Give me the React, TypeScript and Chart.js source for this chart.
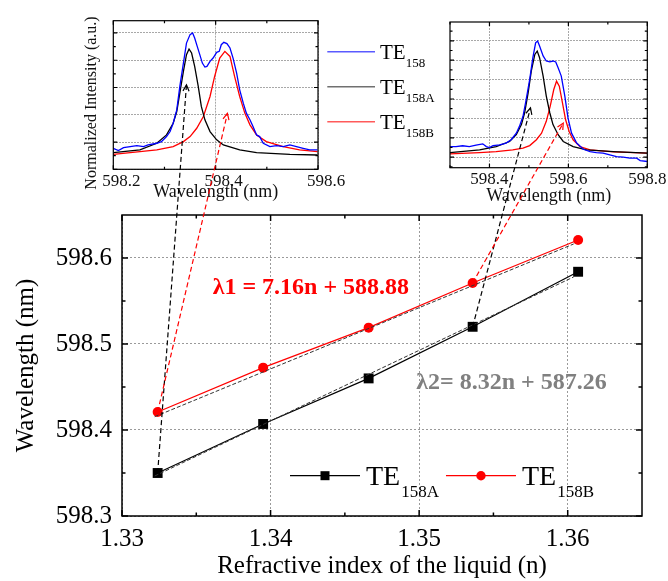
import React, { useEffect, useRef } from "react";
import { Chart, registerables } from "chart.js";

Chart.register(...registerables);

const SERIF = '"Liberation Serif", "Times New Roman", serif';

// ---------------- main chart data ----------------
const refractiveIndex = [1.3324, 1.3395, 1.3466, 1.3536, 1.3607];
const te158A = [598.35, 598.407, 598.46, 598.52, 598.584];
const te158B = [598.421, 598.4725, 598.519, 598.571, 598.621];
const fitIndex = [1.3322, 1.3604];
const fitA = [598.3465, 598.578];
const fitB = [598.4155, 598.6163];
const mainXTicks = [1.33, 1.34, 1.35, 1.36];
const mainXMinor = [1.335, 1.345, 1.355];
const mainYTicks = [598.3, 598.4, 598.5, 598.6];
const mainYMinor = [598.35, 598.45, 598.55];
const eq1Text = "λ1 = 7.16n + 588.88";
const eq1At = [1.3361, 598.565];
const eq2Text = "λ2= 8.32n + 587.26";
const eq2At = [1.3498, 598.455];
const mainLegend = [
  { label: "TE", sub: "158A", color: "#000000", marker: "square" },
  { label: "TE", sub: "158B", color: "#ff0000", marker: "circle" },
];

// ---------------- inset 1 data ----------------
const in1BlueWl = [598.2, 598.21, 598.22, 598.233, 598.246, 598.259, 598.268, 598.285, 598.294, 598.304, 598.311, 598.317, 598.324, 598.33, 598.337, 598.343, 598.35, 598.355, 598.359, 598.364, 598.369, 598.374, 598.379, 598.383, 598.389, 598.395, 598.402, 598.407, 598.411, 598.416, 598.422, 598.428, 598.434, 598.441, 598.447, 598.454, 598.46, 598.467, 598.473, 598.48, 598.486, 598.493, 598.506, 598.519, 598.532, 598.545, 598.558, 598.571, 598.584, 598.599];
const in1Blue = [0.154, 0.137, 0.159, 0.167, 0.174, 0.167, 0.179, 0.191, 0.203, 0.24, 0.277, 0.338, 0.436, 0.608, 0.779, 0.926, 0.988, 1.0, 0.963, 0.902, 0.841, 0.779, 0.75, 0.755, 0.792, 0.816, 0.858, 0.865, 0.914, 0.931, 0.922, 0.89, 0.816, 0.706, 0.583, 0.485, 0.412, 0.363, 0.314, 0.252, 0.24, 0.191, 0.167, 0.174, 0.167, 0.179, 0.167, 0.154, 0.142, 0.142];
const in1BlackWl = [598.2, 598.252, 598.285, 598.304, 598.317, 598.324, 598.33, 598.337, 598.343, 598.348, 598.353, 598.359, 598.366, 598.372, 598.379, 598.389, 598.402, 598.415, 598.447, 598.48, 598.545, 598.599];
const in1Black = [0.123, 0.142, 0.191, 0.252, 0.338, 0.424, 0.559, 0.718, 0.841, 0.882, 0.853, 0.755, 0.608, 0.461, 0.363, 0.277, 0.216, 0.179, 0.142, 0.123, 0.11, 0.105];
const in1RedWl = [598.2, 598.252, 598.285, 598.317, 598.337, 598.35, 598.363, 598.376, 598.389, 598.398, 598.408, 598.418, 598.428, 598.437, 598.447, 598.457, 598.467, 598.48, 598.499, 598.532, 598.564, 598.599];
const in1Red = [0.11, 0.13, 0.142, 0.167, 0.203, 0.24, 0.301, 0.387, 0.534, 0.681, 0.816, 0.865, 0.828, 0.681, 0.534, 0.412, 0.326, 0.252, 0.203, 0.167, 0.142, 0.13];
const in1XTicks = [598.2, 598.4, 598.6];
const in1XMinor = [598.3, 598.5];
const in1YTicks = [0, 0.2, 0.4, 0.6, 0.8, 1.0];
const in1YMinor = [0.1, 0.3, 0.5, 0.7, 0.9];
const insetLegend = [
  { sub: "158", color: "#5a5aff" },
  { sub: "158A", color: "#707070" },
  { sub: "158B", color: "#ff5a5a" },
];

// ---------------- inset 2 data ----------------
const in2BlueWl = [598.3, 598.315, 598.332, 598.349, 598.366, 598.383, 598.392, 598.4, 598.409, 598.426, 598.442, 598.455, 598.468, 598.476, 598.485, 598.493, 598.502, 598.51, 598.517, 598.522, 598.527, 598.536, 598.544, 598.553, 598.561, 598.568, 598.574, 598.582, 598.591, 598.599, 598.608, 598.621, 598.638, 598.655, 598.671, 598.688, 598.705, 598.722, 598.739, 598.756, 598.773, 598.782, 598.8];
const in2Blue = [0.055, 0.055, 0.059, 0.055, 0.062, 0.069, 0.055, 0.05, 0.06, 0.064, 0.073, 0.09, 0.124, 0.159, 0.211, 0.297, 0.401, 0.513, 0.59, 0.599, 0.573, 0.522, 0.496, 0.492, 0.496, 0.491, 0.461, 0.418, 0.315, 0.203, 0.124, 0.073, 0.041, 0.029, 0.024, 0.021, 0.012, 0.003, 0.0, -0.005, -0.005, -0.017, -0.022];
const in2BlackWl = [598.3, 598.375, 598.417, 598.451, 598.468, 598.481, 598.489, 598.498, 598.506, 598.515, 598.521, 598.527, 598.536, 598.544, 598.553, 598.561, 598.574, 598.587, 598.612, 598.646, 598.714, 598.8];
const in2Black = [0.024, 0.038, 0.055, 0.081, 0.116, 0.168, 0.228, 0.332, 0.444, 0.53, 0.547, 0.513, 0.418, 0.315, 0.228, 0.168, 0.116, 0.081, 0.055, 0.038, 0.029, 0.021];
const in2RedWl = [598.3, 598.375, 598.417, 598.459, 598.485, 598.502, 598.519, 598.532, 598.544, 598.554, 598.563, 598.57, 598.577, 598.585, 598.593, 598.602, 598.612, 598.629, 598.655, 598.714, 598.8];
const in2Red = [0.017, 0.024, 0.029, 0.038, 0.047, 0.06, 0.09, 0.124, 0.185, 0.263, 0.349, 0.392, 0.366, 0.28, 0.193, 0.133, 0.09, 0.055, 0.038, 0.028, 0.021];
const in2XTicks = [598.4, 598.6, 598.8];
const in2XMinor = [598.3, 598.5, 598.7];
const in2YTicks = [0, 0.1, 0.2, 0.3, 0.4, 0.5, 0.6];
const in2YMinor = [-0.05, 0.05, 0.15, 0.25, 0.35, 0.45, 0.55, 0.65];

// ---------------- arrows (main point -> inset location) ----------------
const arrowSpecs = [
  { series: "A", index: 0, inset: 1, wl: 598.343, level: 0.62, color: "#000000" },
  { series: "B", index: 0, inset: 1, wl: 598.423, level: 0.41, color: "#ff0000" },
  { series: "A", index: 3, inset: 2, wl: 598.504, level: 0.254, color: "#000000" },
  { series: "B", index: 3, inset: 2, wl: 598.587, level: 0.176, color: "#ff0000" },
];

// ---------------- layout ----------------
const MAIN = { left: 0, top: 0, w: 668, h: 581, area: { left: 122, top: 215, right: 642, bottom: 516 } };
const IN1 = { left: 0, top: 0, w: 448, h: 215, area: { left: 113.3, top: 20.7, right: 318, bottom: 169.3 } };
const IN2 = { left: 440, top: 0, w: 228, h: 215, area: { left: 10, top: 22, right: 207.3, bottom: 167.7 } };

const pts = (xs: number[], ys: number[]) => xs.map((x, i) => ({ x, y: ys[i] }));

function framePlugin(spec: any) {
  return {
    id: "frameTicks",
    afterDraw(chart: any) {
      const { ctx, chartArea: a } = chart;
      const sx = chart.scales.x;
      const sy = chart.scales.y;
      ctx.save();
      ctx.setLineDash([]);
      ctx.strokeStyle = "#000";
      ctx.lineWidth = spec.lineWidth;
      ctx.beginPath();
      const xm = (vals: number[], len: number) =>
        vals.forEach((v) => {
          const p = sx.getPixelForValue(v);
          if (p < a.left - 0.5 || p > a.right + 0.5) return;
          ctx.moveTo(p, a.bottom);
          ctx.lineTo(p, a.bottom - len);
          ctx.moveTo(p, a.top);
          ctx.lineTo(p, a.top + len);
        });
      const ym = (vals: number[], len: number) =>
        vals.forEach((v) => {
          const p = sy.getPixelForValue(v);
          if (p < a.top - 0.5 || p > a.bottom + 0.5) return;
          ctx.moveTo(a.left, p);
          ctx.lineTo(a.left + len, p);
          ctx.moveTo(a.right, p);
          ctx.lineTo(a.right - len, p);
        });
      xm(spec.xMajor, spec.major);
      xm(spec.xMinor, spec.minor);
      ym(spec.yMajor, spec.major);
      ym(spec.yMinor, spec.minor);
      ctx.stroke();
      ctx.strokeRect(a.left, a.top, a.right - a.left, a.bottom - a.top);
      ctx.restore();
    },
  };
}

const mainDecor = {
  id: "mainDecor",
  afterDraw(chart: any) {
    const { ctx, chartArea: a } = chart;
    const sx = chart.scales.x;
    const sy = chart.scales.y;
    ctx.save();
    ctx.textAlign = "left";
    ctx.textBaseline = "middle";
    ctx.font = `bold 24px ${SERIF}`;
    ctx.fillStyle = "#ff0000";
    ctx.fillText(eq1Text, sx.getPixelForValue(eq1At[0]), sy.getPixelForValue(eq1At[1]));
    ctx.fillStyle = "#808080";
    ctx.fillText(eq2Text, sx.getPixelForValue(eq2At[0]), sy.getPixelForValue(eq2At[1]));

    // legend
    let x = a.left + 168;
    const y = a.bottom - 40.3;
    ctx.textBaseline = "alphabetic";
    mainLegend.forEach((item) => {
      ctx.strokeStyle = item.color;
      ctx.fillStyle = item.color;
      ctx.lineWidth = 1.2;
      ctx.beginPath();
      ctx.moveTo(x, y);
      ctx.lineTo(x + 70, y);
      ctx.stroke();
      if (item.marker === "square") {
        ctx.fillRect(x + 35 - 4.5, y - 4.5, 9, 9);
      } else {
        ctx.beginPath();
        ctx.arc(x + 35, y, 4.7, 0, Math.PI * 2);
        ctx.fill();
      }
      ctx.fillStyle = "#000";
      const tx = x + 76;
      ctx.font = `28px ${SERIF}`;
      ctx.fillText(item.label, tx, y + 9.5);
      const w1 = ctx.measureText(item.label).width;
      ctx.font = `17px ${SERIF}`;
      ctx.fillText(item.sub, tx + w1 + 1, y + 21);
      const w2 = ctx.measureText(item.sub).width;
      x = tx + w1 + 1 + w2 + 7;
    });
    ctx.restore();
  },
};

const inset1Decor = {
  id: "inset1Decor",
  afterDraw(chart: any) {
    const { ctx, chartArea: a } = chart;
    ctx.save();
    // y title
    ctx.translate(a.left - 21.6, (a.top + a.bottom) / 2 + 8);
    ctx.rotate(-Math.PI / 2);
    ctx.font = `16px ${SERIF}`;
    ctx.fillStyle = "#111";
    ctx.textAlign = "center";
    ctx.textBaseline = "middle";
    ctx.fillText("Normalized Intensity (a.u.)", 0, 0);
    ctx.restore();

    ctx.save();
    insetLegend.forEach((item, i) => {
      const y = a.top + 31 + i * 35;
      ctx.strokeStyle = item.color;
      ctx.lineWidth = 1.6;
      ctx.beginPath();
      ctx.moveTo(a.right + 9.3, y);
      ctx.lineTo(a.right + 57, y);
      ctx.stroke();
      ctx.fillStyle = "#000";
      ctx.textBaseline = "alphabetic";
      ctx.textAlign = "left";
      ctx.font = `21px ${SERIF}`;
      const tx = a.right + 62;
      ctx.fillText("TE", tx, y + 7.3);
      const w = ctx.measureText("TE").width;
      ctx.font = `13px ${SERIF}`;
      ctx.fillText(item.sub, tx + w, y + 15);
    });
    ctx.restore();
  },
};

function insetConfig(box: any, o: any) {
  const a = box.area;
  return {
    type: "line",
    data: {
      datasets: [
        { data: pts(o.blueWl, o.blue), borderColor: "#0000ff", borderWidth: 1.3, pointRadius: 0, tension: 0 },
        { data: pts(o.blackWl, o.black), borderColor: "#000000", borderWidth: 1.3, pointRadius: 0, tension: 0 },
        { data: pts(o.redWl, o.red), borderColor: "#ff0000", borderWidth: 1.3, pointRadius: 0, tension: 0 },
      ],
    },
    options: {
      animation: false,
      responsive: false,
      events: [],
      layout: { padding: { left: 0, top: a.top, right: box.w - a.right, bottom: 0 } },
      plugins: { legend: { display: false }, tooltip: { enabled: false } },
      scales: {
        x: {
          type: "linear",
          min: o.xMin,
          max: o.xMax,
          afterBuildTicks: (s: any) => {
            s.ticks = o.xTicks.map((v: number) => ({ value: v }));
          },
          afterFit: (s: any) => {
            s.height = box.h - a.bottom;
          },
          grid: { color: "#a8a8a8", lineWidth: 1, drawTicks: false },
          border: { display: false, dash: [2, 1] },
          ticks: {
            font: { family: SERIF, size: 17 },
            color: "#111",
            padding: o.tickPad,
            labelOffset: o.labelOffset,
            maxRotation: 0,
            autoSkip: false,
            callback: (v: any) => Number(v).toFixed(1),
          },
          title: {
            display: true,
            text: "Wavelength (nm)",
            font: { family: SERIF, size: 18 },
            color: "#111",
            padding: { top: 0, bottom: o.titlePad },
          },
        },
        y: {
          type: "linear",
          min: o.yMin,
          max: o.yMax,
          afterBuildTicks: (s: any) => {
            s.ticks = o.yTicks.map((v: number) => ({ value: v }));
          },
          afterFit: (s: any) => {
            s.width = a.left;
          },
          grid: { color: "#a8a8a8", lineWidth: 1, drawTicks: false },
          border: { display: false, dash: [2, 1] },
          ticks: { display: false },
        },
      },
    },
    plugins: [
      framePlugin({ lineWidth: 1.2, major: 4, minor: 2.5, xMajor: o.xTicks, xMinor: o.xMinor, yMajor: o.yTicks, yMinor: o.yMinor }),
      ...(o.extra ? [o.extra] : []),
    ],
  };
}

function mainConfig() {
  const a = MAIN.area;
  return {
    type: "line",
    data: {
      datasets: [
        { data: pts(fitIndex, fitA), borderColor: "#333333", borderWidth: 1, borderDash: [4, 2], pointRadius: 0 },
        { data: pts(fitIndex, fitB), borderColor: "#333333", borderWidth: 1, borderDash: [4, 2], pointRadius: 0 },
        {
          data: pts(refractiveIndex, te158A),
          borderColor: "#000000",
          borderWidth: 1.2,
          pointStyle: "rect",
          pointRadius: 7,
          pointBackgroundColor: "#000000",
          pointBorderColor: "#000000",
          pointBorderWidth: 0,
        },
        {
          data: pts(refractiveIndex, te158B),
          borderColor: "#ff0000",
          borderWidth: 1.2,
          pointStyle: "circle",
          pointRadius: 5,
          pointBackgroundColor: "#ff0000",
          pointBorderColor: "#ff0000",
          pointBorderWidth: 0,
        },
      ],
    },
    options: {
      animation: false,
      responsive: false,
      events: [],
      layout: { padding: { left: 0, top: a.top, right: MAIN.w - a.right, bottom: 0 } },
      plugins: { legend: { display: false }, tooltip: { enabled: false } },
      scales: {
        x: {
          type: "linear",
          min: 1.33,
          max: 1.365,
          afterBuildTicks: (s: any) => {
            s.ticks = mainXTicks.map((v) => ({ value: v }));
          },
          afterFit: (s: any) => {
            s.height = MAIN.h - a.bottom;
          },
          grid: { color: "#9a9a9a", lineWidth: 1, drawTicks: false },
          border: { display: false, dash: [2, 2] },
          ticks: {
            font: { family: SERIF, size: 25 },
            color: "#000",
            padding: 8,
            maxRotation: 0,
            autoSkip: false,
            callback: (v: any) => Number(v).toFixed(2),
          },
          title: {
            display: true,
            text: "Refractive index of the liquid (n)",
            font: { family: SERIF, size: 25 },
            color: "#000",
            padding: { top: 0, bottom: 0 },
          },
        },
        y: {
          type: "linear",
          min: 598.3,
          max: 598.65,
          afterBuildTicks: (s: any) => {
            s.ticks = mainYTicks.map((v) => ({ value: v }));
          },
          afterFit: (s: any) => {
            s.width = a.left;
          },
          grid: { color: "#9a9a9a", lineWidth: 1, drawTicks: false },
          border: { display: false, dash: [2, 2] },
          ticks: {
            font: { family: SERIF, size: 25 },
            color: "#000",
            padding: 10,
            autoSkip: false,
            callback: (v: any) => Number(v).toFixed(1),
          },
          title: {
            display: true,
            text: "Wavelength (nm)",
            font: { family: SERIF, size: 25 },
            color: "#000",
            padding: { top: 11, bottom: 0 },
          },
        },
      },
    },
    plugins: [
      framePlugin({ lineWidth: 1.5, major: 6, minor: 3.5, xMajor: mainXTicks, xMinor: mainXMinor, yMajor: mainYTicks, yMinor: mainYMinor }),
      mainDecor,
    ],
  };
}

function drawArrow(ctx: CanvasRenderingContext2D, x0: number, y0: number, x1: number, y1: number, color: string) {
  ctx.save();
  ctx.strokeStyle = color;
  ctx.lineWidth = 1.2;
  ctx.setLineDash([5, 3]);
  ctx.beginPath();
  ctx.moveTo(x0, y0);
  ctx.lineTo(x1, y1);
  ctx.stroke();
  ctx.setLineDash([]);
  const ang = Math.atan2(y1 - y0, x1 - x0);
  const L = 7;
  const sp = 0.45;
  ctx.beginPath();
  ctx.moveTo(x1 - L * Math.cos(ang - sp), y1 - L * Math.sin(ang - sp));
  ctx.lineTo(x1, y1);
  ctx.lineTo(x1 - L * Math.cos(ang + sp), y1 - L * Math.sin(ang + sp));
  ctx.stroke();
  ctx.restore();
}

export default function App() {
  const mainRef = useRef<HTMLCanvasElement>(null);
  const in1Ref = useRef<HTMLCanvasElement>(null);
  const in2Ref = useRef<HTMLCanvasElement>(null);
  const ovRef = useRef<HTMLCanvasElement>(null);

  useEffect(() => {
    const main = new Chart(mainRef.current as any, mainConfig() as any);
    const in1 = new Chart(
      in1Ref.current as any,
      insetConfig(IN1, {
        blueWl: in1BlueWl, blue: in1Blue, blackWl: in1BlackWl, black: in1Black, redWl: in1RedWl, red: in1Red,
        xMin: 598.2, xMax: 598.6, yMin: 0, yMax: 1.09,
        xTicks: in1XTicks, xMinor: in1XMinor, yTicks: in1YTicks, yMinor: in1YMinor,
        tickPad: 2.5, labelOffset: 8, titlePad: 11.8, extra: inset1Decor,
      }) as any
    );
    const in2 = new Chart(
      in2Ref.current as any,
      insetConfig(IN2, {
        blueWl: in2BlueWl, blue: in2Blue, blackWl: in2BlackWl, black: in2Black, redWl: in2RedWl, red: in2Red,
        xMin: 598.3, xMax: 598.8, yMin: -0.054, yMax: 0.697,
        xTicks: in2XTicks, xMinor: in2XMinor, yTicks: in2YTicks, yMinor: in2YMinor,
        tickPad: 1.5, labelOffset: 0, titlePad: 7.5, extra: null,
      }) as any
    );

    const ov = ovRef.current as HTMLCanvasElement;
    const ctx = ov.getContext("2d") as CanvasRenderingContext2D;
    ctx.clearRect(0, 0, ov.width, ov.height);
    arrowSpecs.forEach((s) => {
      const series = s.series === "A" ? te158A : te158B;
      const x0 = MAIN.left + (main.scales.x as any).getPixelForValue(refractiveIndex[s.index]);
      const y0 = MAIN.top + (main.scales.y as any).getPixelForValue(series[s.index]);
      const ch = s.inset === 1 ? in1 : in2;
      const box = s.inset === 1 ? IN1 : IN2;
      const x1 = box.left + (ch.scales.x as any).getPixelForValue(s.wl);
      const y1 = box.top + (ch.scales.y as any).getPixelForValue(s.level);
      drawArrow(ctx, x0, y0, x1, y1, s.color);
    });

    return () => {
      main.destroy();
      in1.destroy();
      in2.destroy();
      ctx.clearRect(0, 0, ov.width, ov.height);
    };
  }, []);

  const abs = (b: any) => ({ position: "absolute" as const, left: b.left, top: b.top, width: b.w, height: b.h, display: "block" });

  return (
    <div style={{ position: "fixed", left: 0, top: 0, width: 668, height: 581, background: "#ffffff" }}>
      <canvas ref={mainRef} width={MAIN.w} height={MAIN.h} style={abs(MAIN)} />
      <canvas ref={in1Ref} width={IN1.w} height={IN1.h} style={abs(IN1)} />
      <canvas ref={in2Ref} width={IN2.w} height={IN2.h} style={abs(IN2)} />
      <canvas ref={ovRef} width={668} height={581} style={{ ...abs({ left: 0, top: 0, w: 668, h: 581 }), pointerEvents: "none" }} />
    </div>
  );
}
